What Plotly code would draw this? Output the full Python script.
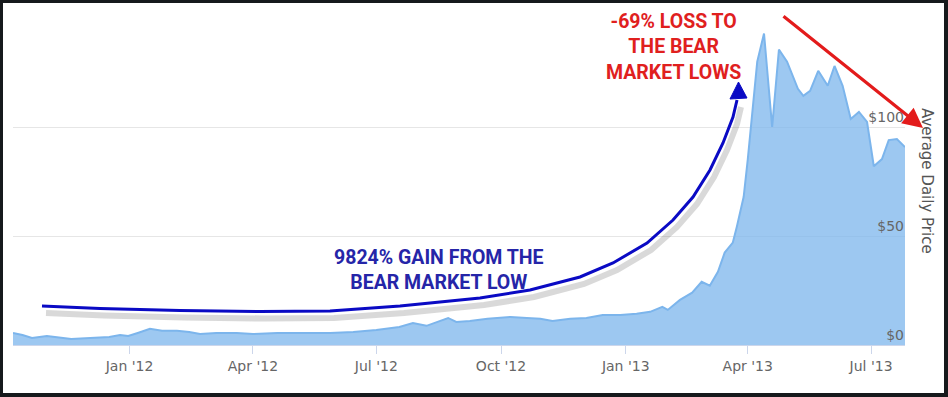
import plotly.graph_objects as go

# ---- data ----
dates = ["2011-10-07", "2011-10-14", "2011-10-21", "2011-11-01", "2011-11-19",
         "2011-12-05", "2011-12-17", "2011-12-25", "2011-12-31", "2012-01-07",
         "2012-01-16", "2012-01-25", "2012-02-05", "2012-02-14", "2012-02-22",
         "2012-03-05", "2012-03-20", "2012-04-01", "2012-04-19", "2012-05-13",
         "2012-05-28", "2012-06-14", "2012-07-01", "2012-07-18", "2012-07-28",
         "2012-08-07", "2012-08-15", "2012-08-23", "2012-08-29", "2012-09-08",
         "2012-09-21", "2012-10-08", "2012-10-20", "2012-10-30", "2012-11-08",
         "2012-11-21", "2012-12-03", "2012-12-15", "2012-12-28", "2013-01-09",
         "2013-01-19", "2013-01-28", "2013-02-01", "2013-02-10", "2013-02-19",
         "2013-02-26", "2013-03-04", "2013-03-10", "2013-03-15", "2013-03-21",
         "2013-03-24", "2013-03-29", "2013-04-01", "2013-04-08", "2013-04-13",
         "2013-04-19", "2013-04-24", "2013-04-30", "2013-05-08", "2013-05-12",
         "2013-05-17", "2013-05-23", "2013-05-30", "2013-06-04", "2013-06-10",
         "2013-06-16", "2013-06-22", "2013-06-28", "2013-07-03", "2013-07-09",
         "2013-07-14", "2013-07-20", "2013-07-26"]
prices = [5.5, 4.6, 3.2, 4.1, 2.8,
          3.2, 3.7, 4.6, 4.1, 5.5,
          7.4, 6.5, 6.5, 6.0, 5.0,
          5.5, 5.5, 5.0, 5.5, 5.5,
          5.5, 6.0, 6.9, 8.3, 10.1,
          8.8, 10.6, 12.4, 10.6, 11.0,
          12.0, 12.9, 12.4, 12.0, 11.0,
          12.0, 12.4, 13.8, 13.8, 14.3,
          15.2, 17.5, 16.1, 20.7, 24.0,
          29.0, 27.2, 33.6, 42.4, 47.0,
          54.4, 68.0, 85.0, 130.0, 142.9,
          100.0, 135.5, 130.0, 117.5, 114.3,
          116.6, 125.8, 118.9, 128.0, 118.9,
          103.7, 106.9, 102.3, 82.0, 85.3,
          94.0, 94.5, 90.8]
y_ticks = [0, 50, 100, 150]
y_tick_labels = ["$0", "$50", "$100", ""]
x_range = ["2011-10-07", "2013-07-26"]
y_range = [0, 150]
y_title = "Average Daily Price"
red_text = "-69% LOSS TO<br>THE BEAR<br>MARKET LOWS"
blue_text = "9824% GAIN FROM THE<br>BEAR MARKET LOW"

# ---- layout geometry (pixels) ----
W, H = 948, 397
L, R, T, B = 13, 43, 18, 52
PW, PH = W - L - R, H - T - B


def px(x, y):
    """pixel position -> paper coordinates"""
    return (x - L) / PW, (H - B - y) / PH


def path(points, dx=0, dy=0):
    s = []
    for i, (x, y) in enumerate(points):
        a, b = px(x + dx, y + dy)
        s.append(("M" if i == 0 else "L") + f"{a:.5f},{b:.5f}")
    return " ".join(s)


fig = go.Figure()
fig.add_trace(go.Scatter(
    x=dates, y=prices, mode="lines", fill="tozeroy",
    line=dict(color="#7cb5ec", width=2),
    fillcolor="rgba(124,181,236,0.75)",
    hoverinfo="x+y", showlegend=False,
))
# transparent companion trace so the price-label axis is drawn
fig.add_trace(go.Scatter(
    x=dates, y=prices, yaxis="y2", mode="lines",
    line=dict(color="rgba(0,0,0,0)", width=0),
    hoverinfo="skip", showlegend=False,
))

shapes = []
# white card over the dark frame
x0, y1 = px(3, 3)
x1, y0 = px(944, 393)
shapes.append(dict(type="rect", xref="paper", yref="paper", x0=x0, x1=x1, y0=y0, y1=y1,
                   fillcolor="white", line=dict(width=0), layer="below"))

# blue curved arrow (with soft shadow)
curve = [(42, 306), (100, 308.5), (180, 310.5), (260, 311.5), (330, 311), (400, 306),
         (480, 298), (530, 290), (580, 277), (613, 263), (647, 243), (673, 220),
         (693, 197), (710, 170), (723, 143), (733, 117), (737, 100)]
shapes.append(dict(type="path", xref="paper", yref="paper", path=path(curve, 4, 7),
                   line=dict(color="rgba(80,80,80,0.22)", width=6)))
shapes.append(dict(type="path", xref="paper", yref="paper", path=path(curve),
                   line=dict(color="#0a0ac4", width=3)))
head = [(738.5, 82), (730, 99), (747, 98)]
shapes.append(dict(type="path", xref="paper", yref="paper", path=path(head) + " Z",
                   fillcolor="#0a0ac4", line=dict(color="#0a0ac4", width=1)))

annotations = []
# red straight arrow
tx, ty = px(923, 128)
annotations.append(dict(x=tx, y=ty, xref="paper", yref="paper", text="", showarrow=True,
                        ax=782 - 923, ay=15 - 128, axref="pixel", ayref="pixel",
                        arrowhead=2, arrowsize=1.25, arrowwidth=3.2, arrowcolor="#e31b1b"))
# red text
a, b = px(673, 47)
annotations.append(dict(x=a, y=b, xref="paper", yref="paper", text=red_text, showarrow=False,
                        xanchor="center", yanchor="middle", align="center",
                        font=dict(family="Roboto", size=19.5, color="#e0201e", weight="bold")))
# blue text
a, b = px(438.5, 270)
annotations.append(dict(x=a, y=b, xref="paper", yref="paper", text=blue_text, showarrow=False,
                        xanchor="center", yanchor="middle", align="center",
                        font=dict(family="Roboto", size=19.5, color="#2525a8", weight="bold")))
# y-axis title, reading top to bottom
a, b = px(927, 181)
annotations.append(dict(x=a, y=b, xref="paper", yref="paper", text=y_title, showarrow=False,
                        textangle=90, xanchor="center", yanchor="middle",
                        font=dict(family="DejaVu Sans", size=15, color="#555555")))

fig.update_layout(
    width=W, height=H,
    margin=dict(l=L, r=R, t=T, b=B, pad=0),
    paper_bgcolor="#16191c", plot_bgcolor="rgba(0,0,0,0)",
    shapes=shapes, annotations=annotations,
    showlegend=False,
    xaxis=dict(type="date", range=x_range, tick0="2012-01-01", dtick="M3",
               tickformat="%b '%y", showgrid=False, zeroline=False,
               showline=True, linecolor="#ccd6eb", linewidth=1,
               ticks="outside", ticklen=8, tickcolor="#ccd6eb",
               tickfont=dict(family="DejaVu Sans", size=14, color="#666666"),
               automargin=False, fixedrange=True),
    yaxis=dict(range=y_range, tickvals=y_ticks, showticklabels=False,
               showgrid=True, gridcolor="#e6e6e6", gridwidth=1,
               zeroline=False, showline=False, ticks="",
               automargin=False, fixedrange=True),
    # price labels sit at the right edge of the plot, just above each grid line
    yaxis2=dict(range=y_range, overlaying="y", side="left", anchor="free", position=1,
                tickvals=y_ticks, ticktext=y_tick_labels,
                ticklabelposition="outside top", ticklabelstandoff=1, showgrid=False,
                zeroline=False, showline=False, ticks="",
                tickfont=dict(family="DejaVu Sans", size=14, color="#666666"),
                automargin=False, fixedrange=True),
)

fig.write_html("out.html", config={"displayModeBar": False},
               post_script="document.body.style.margin='0px';document.body.style.overflow='hidden';")
